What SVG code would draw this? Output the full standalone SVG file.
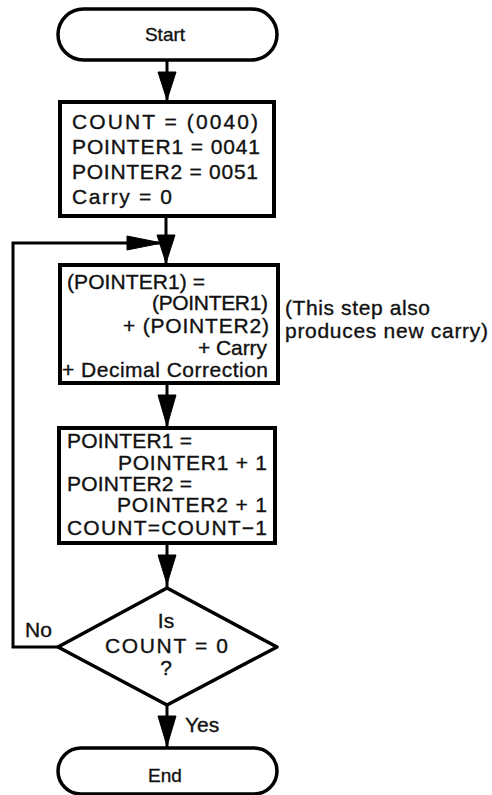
<svg xmlns="http://www.w3.org/2000/svg" width="492" height="795" viewBox="0 0 492 795">
<style>
.s{fill:none;stroke:#000;stroke-width:3.5;stroke-linejoin:round}
.b{fill:#fff;stroke:#000;stroke-width:4}
.l{fill:none;stroke:#000;stroke-width:3}
.h{fill:#000;stroke:#000;stroke-width:1}
text{font-family:"Liberation Sans",Arial,sans-serif;fill:#111;stroke:#111;stroke-width:0.35}
.t{font-size:21px}
.m{font-size:21px}
</style>
<rect width="492" height="795" fill="#fff"/>
<g id="connectors">
<line class="l" x1="167" y1="60" x2="167" y2="102"/>
<polygon class="h" points="158,72 176,72 167,100"/>
<line class="l" x1="166" y1="216" x2="166" y2="265"/>
<polygon class="h" points="157,235 175,235 166,263"/>
<polyline class="l" points="58,647 13,647 13,243 166,243"/>
<polygon class="h" points="127,236 127,250 162,243"/>
<line class="l" x1="167" y1="383" x2="167" y2="428"/>
<polygon class="h" points="158,395 176,395 167,426"/>
<line class="l" x1="167" y1="543" x2="167" y2="588"/>
<polygon class="h" points="158,555 176,555 167,584"/>
<line class="l" x1="167" y1="705" x2="167" y2="748"/>
<polygon class="h" points="158,716 176,716 167,746"/>
<text class="t" x="25" y="637">No</text>
<text class="t" x="185" y="732">Yes</text>
</g>
<g id="start">
<rect class="s" x="58" y="9" width="219" height="51" rx="25.5" fill="#fff"/>
<text x="165" y="41" font-size="19" text-anchor="middle">Start</text>
</g>
<g id="init">
<rect class="b" x="60" y="102" width="214" height="114"/>
<text class="m" x="72" y="129" textLength="186" lengthAdjust="spacing">COUNT = (0040)</text>
<text class="m" x="72" y="154" textLength="188" lengthAdjust="spacing">POINTER1 = 0041</text>
<text class="m" x="72" y="179" textLength="186" lengthAdjust="spacing">POINTER2 = 0051</text>
<text class="m" x="72" y="204" textLength="100" lengthAdjust="spacing">Carry = 0</text>
</g>
<g id="add">
<rect class="b" x="60" y="265" width="218" height="118"/>
<text class="t" x="67" y="289" textLength="138" lengthAdjust="spacing">(POINTER1) =</text>
<text class="t" x="152" y="310" textLength="116" lengthAdjust="spacing">(POINTER1)</text>
<text class="t" x="123" y="333" textLength="146" lengthAdjust="spacing">+ (POINTER2)</text>
<text class="t" x="198" y="355" textLength="69" lengthAdjust="spacing">+ Carry</text>
<text class="t" x="62" y="377" textLength="206" lengthAdjust="spacing">+ Decimal Correction</text>
</g>
<g id="note">
<text class="t" x="285" y="315" textLength="145" lengthAdjust="spacing">(This step also</text>
<text class="t" x="285" y="338" textLength="203" lengthAdjust="spacing">produces new carry)</text>
</g>
<g id="update">
<rect class="b" x="59" y="428" width="216" height="115"/>
<text class="t" x="67" y="448" textLength="125" lengthAdjust="spacing">POINTER1 =</text>
<text class="t" x="118" y="470" textLength="149" lengthAdjust="spacing">POINTER1 + 1</text>
<text class="t" x="67" y="491" textLength="125" lengthAdjust="spacing">POINTER2 =</text>
<text class="t" x="117" y="512" textLength="150" lengthAdjust="spacing">POINTER2 + 1</text>
<text class="t" x="67" y="535" textLength="200" lengthAdjust="spacing">COUNT=COUNT−1</text>
</g>
<g id="decision">
<polygon class="s" points="167,588 277,647 167,705 58,647" fill="#fff"/>
<text class="t" x="166" y="628" text-anchor="middle">Is</text>
<text class="t" x="105" y="653" textLength="123" lengthAdjust="spacing">COUNT = 0</text>
<text class="t" x="166" y="675" text-anchor="middle">?</text>
</g>
<g id="end">
<rect class="s" x="58" y="748" width="219" height="46" rx="23" fill="#fff"/>
<text x="165" y="782" font-size="19" text-anchor="middle">End</text>
</g>
</svg>
